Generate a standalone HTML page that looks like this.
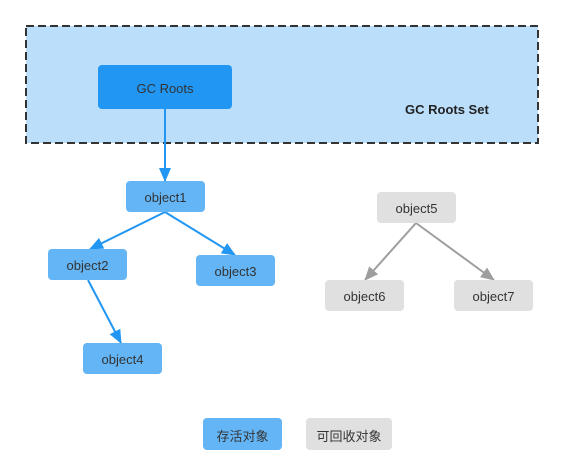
<!DOCTYPE html>
<html><head><meta charset="utf-8"><style>
body{margin:0;width:564px;height:474px;background:#fff;overflow:hidden;position:relative;font-family:"Liberation Sans","Noto Sans CJK SC",sans-serif}
.n{position:absolute;border-radius:4px;display:flex;align-items:center;justify-content:center;font-size:13px;color:#333;padding-top:2px;box-sizing:border-box}
.b{background:#64b5f6}.g{background:#e0e0e0}
</style></head><body>
<svg width="564" height="474" style="position:absolute;left:0;top:0">
<rect x="26" y="26" width="512" height="117" fill="#bbdefb" stroke="#333" stroke-width="2" stroke-dasharray="8,4"/>
</svg>
<div class="n" style="left:98px;top:65px;width:134px;height:44px;background:#2196f3">GC Roots</div>
<div style="position:absolute;left:405px;top:102px;font-size:13px;font-weight:bold;color:#222">GC Roots Set</div>
<svg width="564" height="474" style="position:absolute;left:0;top:0">
<defs><marker id="a" markerWidth="14" markerHeight="12" refX="13" refY="6" orient="auto" markerUnits="userSpaceOnUse"><path d="M0,0L14,6L0,12z" fill="#2196f3"/></marker>
<marker id="c" markerWidth="14" markerHeight="12" refX="13" refY="6" orient="auto" markerUnits="userSpaceOnUse"><path d="M0,0L14,6L0,12z" fill="#9e9e9e"/></marker></defs>
<g stroke="#2196f3" stroke-width="2" fill="none">
<line x1="165" y1="109" x2="165" y2="181" marker-end="url(#a)"/>
<line x1="165" y1="212" x2="90" y2="249" marker-end="url(#a)"/>
<line x1="165" y1="212" x2="235" y2="255" marker-end="url(#a)"/>
<line x1="88" y1="280" x2="121" y2="343" marker-end="url(#a)"/>
</g>
<g stroke="#9e9e9e" stroke-width="2" fill="none">
<line x1="416" y1="223" x2="365" y2="280" marker-end="url(#c)"/>
<line x1="416" y1="223" x2="494" y2="280" marker-end="url(#c)"/>
</g></svg>
<div class="n b" style="left:126px;top:181px;width:79px;height:31px">object1</div>
<div class="n b" style="left:48px;top:249px;width:79px;height:31px">object2</div>
<div class="n b" style="left:196px;top:255px;width:79px;height:31px">object3</div>
<div class="n b" style="left:83px;top:343px;width:79px;height:31px">object4</div>
<div class="n g" style="left:377px;top:192px;width:79px;height:31px">object5</div>
<div class="n g" style="left:325px;top:280px;width:79px;height:31px">object6</div>
<div class="n g" style="left:454px;top:280px;width:79px;height:31px">object7</div>
<div class="n b" style="left:203px;top:418px;width:79px;height:32px">存活对象</div>
<div class="n g" style="left:306px;top:418px;width:86px;height:32px">可回收对象</div>
</body></html>
